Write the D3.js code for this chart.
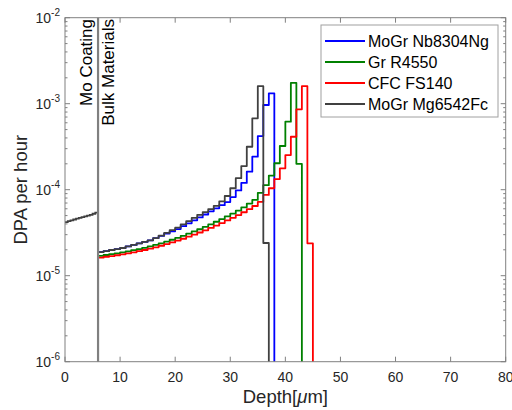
<!DOCTYPE html>
<html>
<head>
<meta charset="utf-8">
<script src="https://cdn.jsdelivr.net/npm/d3@7"></script>
<style>
  body { margin: 0; background: #fff; }
  text { font-family: "Liberation Sans", Arial, sans-serif; }
</style>
</head>
<body>
<div id="viz"></div>
<script>
// ========================================
// Data
// ========================================

// bin start depths in the bulk material, 1 um bins
var bulkDepth = [6, 7, 8, 9, 10, 11, 12, 13, 14, 15, 16, 17, 18, 19, 20, 21, 22, 23, 24, 25,
                 26, 27, 28, 29, 30, 31, 32, 33, 34, 35, 36, 37, 38, 39, 40, 41, 42, 43, 44, 45];

// Mo coating layer, 0.5 um bins
var moDepth = [0, 0.5, 1, 1.5, 2, 2.5, 3, 3.5, 4, 4.5, 5, 5.5, 6];
var moValues = [4.2e-5, 4.3e-5, 4.4e-5, 4.5e-5, 4.6e-5, 4.7e-5, 4.8e-5, 4.9e-5, 5.0e-5, 5.1e-5, 5.25e-5, 5.4e-5];

var seriesNames = ['MoGr Nb8304Ng', 'Gr R4550', 'CFC FS140', 'MoGr Mg6542Fc'];
var seriesColors = ['#0000ff', '#008000', '#ff0000', '#404040'];

var nb8304 = [1.88e-5, 1.93e-5, 1.99e-5, 2.04e-5, 2.10e-5, 2.19e-5, 2.28e-5, 2.38e-5, 2.48e-5, 2.58e-5,
              2.74e-5, 2.91e-5, 3.09e-5, 3.28e-5, 3.48e-5, 3.77e-5, 4.07e-5, 4.41e-5, 4.76e-5, 5.15e-5,
              5.60e-5, 6.08e-5, 6.61e-5, 7.18e-5, 8.2e-5, 9.8e-5, 1.2e-4, 1.62e-4, 2.42e-4, 4.2e-4,
              9.66e-4, 1.32e-3];

var r4550 = [1.70e-5, 1.74e-5, 1.78e-5, 1.82e-5, 1.87e-5, 1.92e-5, 1.98e-5, 2.04e-5, 2.11e-5, 2.19e-5,
             2.28e-5, 2.38e-5, 2.49e-5, 2.62e-5, 2.75e-5, 2.90e-5, 3.08e-5, 3.27e-5, 3.47e-5, 3.70e-5,
             3.95e-5, 4.24e-5, 4.55e-5, 4.90e-5, 5.28e-5, 5.71e-5, 6.24e-5, 6.89e-5, 7.6e-5, 9.2e-5,
             1.13e-4, 1.46e-4, 2.03e-4, 3.22e-4, 6.18e-4, 1.75e-3, 2.0e-4];

var fs140 = [1.62e-5, 1.66e-5, 1.69e-5, 1.73e-5, 1.77e-5, 1.82e-5, 1.87e-5, 1.93e-5, 1.99e-5, 2.06e-5,
             2.14e-5, 2.23e-5, 2.33e-5, 2.44e-5, 2.56e-5, 2.69e-5, 2.84e-5, 3.00e-5, 3.18e-5, 3.37e-5,
             3.59e-5, 3.83e-5, 4.09e-5, 4.39e-5, 4.71e-5, 5.07e-5, 5.47e-5, 5.93e-5, 6.46e-5, 7.2e-5,
             8.7e-5, 1.04e-4, 1.33e-4, 1.77e-4, 2.53e-4, 4.13e-4, 8.6e-4, 1.6e-3, 2.38e-5];

var mg6542 = [1.88e-5, 1.93e-5, 1.99e-5, 2.04e-5, 2.10e-5, 2.19e-5, 2.28e-5, 2.38e-5, 2.48e-5, 2.58e-5,
              2.74e-5, 2.92e-5, 3.15e-5, 3.38e-5, 3.62e-5, 3.96e-5, 4.30e-5, 4.70e-5, 5.10e-5, 5.50e-5,
              5.95e-5, 6.50e-5, 7.30e-5, 8.45e-5, 1.04e-4, 1.36e-4, 1.88e-4, 3.16e-4, 6.76e-4, 1.6e-3,
              2.4e-5];

var seriesValues = [nb8304, r4550, fs140, mg6542];

var xTicks = [0, 10, 20, 30, 40, 50, 60, 70, 80];
var yTicks = [1e-6, 1e-5, 1e-4, 1e-3, 1e-2];
var interfaceDepth = 6;

// ========================================
// Layout
// ========================================
var width = 512, height = 410;
var plotLeft = 65, plotRight = 505.7, plotTop = 17.7, plotBottom = 361.7;
var axis_color = '#262626';
var box_color = '#808080';

var svg = d3.select('#viz')
   .append('svg')
   .attr('width', width)
   .attr('height', height)
   .style('background-color', '#fff');

var x = d3.scaleLinear().domain([0, 80]).range([plotLeft, plotRight]);
var y = d3.scaleLog().domain([1e-6, 1e-2]).range([plotBottom, plotTop]);

// minor ticks on log axis
var minorTicks = [];
yTicks.slice(0, -1).forEach(t => {
   for (var k = 2; k <= 9; k++) minorTicks.push(t * k);
});

var axes = svg.append('g');

// y ticks, inside on both sides
[plotLeft, plotRight].forEach((xx, i) => {
   var dir = i === 0 ? 1 : -1;
   axes.selectAll(null).data(yTicks).enter().append('line')
      .attr('x1', xx).attr('x2', xx + dir * 5)
      .attr('y1', d => y(d)).attr('y2', d => y(d))
      .style('stroke', box_color).style('stroke-width', 1);
   axes.selectAll(null).data(minorTicks).enter().append('line')
      .attr('x1', xx).attr('x2', xx + dir * 2.5)
      .attr('y1', d => y(d)).attr('y2', d => y(d))
      .style('stroke', box_color).style('stroke-width', 1);
});

// x ticks, inside top and bottom
[plotBottom, plotTop].forEach((yy, i) => {
   var dir = i === 0 ? -1 : 1;
   axes.selectAll(null).data(xTicks).enter().append('line')
      .attr('x1', d => x(d)).attr('x2', d => x(d))
      .attr('y1', yy).attr('y2', yy + dir * 5)
      .style('stroke', box_color).style('stroke-width', 1);
});

// x tick labels
axes.selectAll(null).data(xTicks).enter().append('text')
   .attr('x', d => x(d))
   .attr('y', 382)
   .attr('text-anchor', 'middle')
   .style('font-size', '14px')
   .style('fill', axis_color)
   .text(d => d);

// y tick labels as 10^n
var ylab = axes.selectAll(null).data(yTicks).enter().append('text')
   .attr('x', 60)
   .attr('y', d => y(d) + 5)
   .attr('text-anchor', 'end')
   .style('font-size', '14px')
   .style('fill', axis_color);
ylab.append('tspan').text('10');
ylab.append('tspan')
   .attr('dy', -7)
   .style('font-size', '10px')
   .text(d => Math.round(Math.log10(d)));

// axis titles
var xt = svg.append('text')
   .attr('x', (plotLeft + plotRight) / 2)
   .attr('y', 403)
   .attr('text-anchor', 'middle')
   .style('font-size', '18.5px')
   .style('fill', axis_color);
xt.append('tspan').text('Depth[');
xt.append('tspan').style('font-style', 'italic').text('\u03bc');
xt.append('tspan').text('m]');

svg.append('text')
   .attr('transform', `translate(27, ${(plotTop + plotBottom) / 2})rotate(-90)`)
   .attr('text-anchor', 'middle')
   .style('font-size', '18.5px')
   .style('fill', axis_color)
   .text('DPA per hour');

// ========================================
// Curves
// ========================================
var line = d3.line()
   .x(d => x(d[0]))
   .y(d => y(d[1]))
   .curve(d3.curveStepAfter);

function stepPoints(depths, values, dropToFloor) {
   var pts = values.map((v, i) => [depths[i], v]);
   var end = depths[values.length];
   pts.push([end, values[values.length - 1]]);
   if (dropToFloor) pts.push([end, y.domain()[0]]);
   return pts;
}

var plot = svg.append('g');

seriesValues.forEach((vals, i) => {
   plot.append('path')
      .attr('d', line(stepPoints(bulkDepth, vals, true)))
      .style('fill', 'none')
      .style('stroke', seriesColors[i])
      .style('stroke-width', 1.8)
      .style('stroke-linejoin', 'round');
});

// Mo coating layer
plot.append('path')
   .attr('d', line(stepPoints(moDepth, moValues, false)))
   .style('fill', 'none')
   .style('stroke', seriesColors[3])
   .style('stroke-width', 1.8);

// coating / bulk interface
plot.append('line')
   .attr('x1', x(interfaceDepth)).attr('x2', x(interfaceDepth))
   .attr('y1', plotTop).attr('y2', plotBottom)
   .style('stroke', '#808080')
   .style('stroke-width', 2.2);

// axes box on top
svg.append('rect')
   .attr('x', plotLeft).attr('y', plotTop)
   .attr('width', plotRight - plotLeft).attr('height', plotBottom - plotTop)
   .style('fill', 'none')
   .style('stroke', box_color)
   .style('stroke-width', 1);

// region labels
svg.append('text')
   .attr('transform', `translate(92, 19)rotate(-90)`)
   .attr('text-anchor', 'end')
   .style('font-size', '17px')
   .style('fill', '#000')
   .text('Mo Coating');

svg.append('text')
   .attr('transform', `translate(114, 19)rotate(-90)`)
   .attr('text-anchor', 'end')
   .style('font-size', '17px')
   .style('fill', '#000')
   .text('Bulk Materials');

// ========================================
// Legend
// ========================================
var legend = svg.append('g');
legend.append('rect')
   .attr('x', 321).attr('y', 25)
   .attr('width', 177).attr('height', 92)
   .style('fill', '#fff')
   .style('stroke', '#a0a0a0')
   .style('stroke-width', 1);

var rows = legend.selectAll('g')
   .data(seriesNames)
   .enter()
   .append('g')
   .attr('transform', (d, i) => `translate(0, ${41 + i * 21})`);

rows.append('line')
   .attr('x1', 325).attr('x2', 365)
   .attr('y1', 0).attr('y2', 0)
   .style('stroke', (d, i) => seriesColors[i])
   .style('stroke-width', 1.8);

rows.append('text')
   .attr('x', 368)
   .attr('y', 0)
   .attr('dy', '0.36em')
   .style('font-size', '16px')
   .style('fill', '#000')
   .text(d => d);
</script>
</body>
</html>
